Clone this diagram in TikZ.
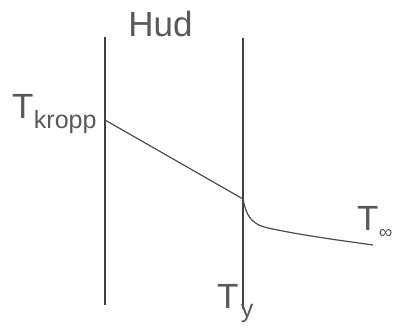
\documentclass[tikz,border=0pt]{standalone}
\usepackage{fontspec}
\setmainfont{Liberation Sans}
\usepackage{tikz}
\usetikzlibrary{positioning}

\begin{document}
\begin{tikzpicture}[
    x=1pt, y=1pt,
    wall/.style={line width=1.2pt, draw=black!75},
    temp/.style={line width=1.2pt, draw=black!70},
    lbl/.style={inner sep=0pt, text=black!65, font=\fontsize{35}{35}\selectfont},
    sublbl/.style={inner sep=0pt, text=black!65, font=\fontsize{25}{25}\selectfont}
]
    \useasboundingbox (0,0) rectangle (395,327);

    % skin walls
    \coordinate (ktop) at (105,290);
    \coordinate (kbot) at (105,22);
    \coordinate (ytop) at (243,289);
    \coordinate (ybot) at (243,18);
    \draw[wall] (ktop) -- (kbot);
    \draw[wall] (ytop) -- (ybot);

    % temperature profile
    \coordinate (kp) at (105,207);
    \coordinate (yp) at (243,128);
    \coordinate (inf) at (373,82);
    \draw[temp] (yp) -- (kp);
    \draw[temp] (yp) .. controls (246,113) and (250,103) .. (268,99)
                     .. controls (305,91) and (345,86) .. (inf);

    % labels
    \node[lbl, anchor=base] (hud) at (160.5,290) {Hud};
    \node[lbl, anchor=base west] (Tk) at (12,209) {T};
    \node[sublbl, anchor=base west] (kropp) at ([yshift=-10pt]Tk.base east) {kropp};
    \node[lbl, anchor=base west] (Ty) at (217,19) {T};
    \node[sublbl, anchor=base west, xshift=2pt] (ysub) at ([yshift=-9pt]Ty.base east) {y};
    \node[lbl, anchor=base west] (Tinf) at (357,97) {T};
    \node[inner sep=0pt, text=black!65, font=\fontsize{19}{19}\selectfont, anchor=base west] (infsub) at ([yshift=-8pt]Tinf.base east) {∞};
\end{tikzpicture}
\end{document}
